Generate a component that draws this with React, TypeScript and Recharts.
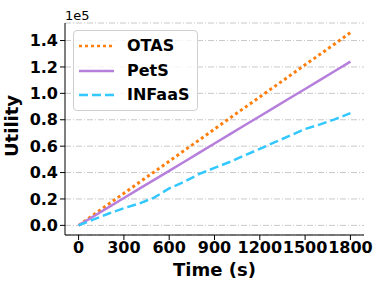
import React from "react";
import { LineChart, Line, XAxis, YAxis, CartesianGrid } from "recharts";

const times = [0, 100, 200, 300, 400, 500, 600, 700, 800, 900, 1000, 1100, 1200, 1300, 1400, 1500, 1600, 1700, 1800];
const otas = [0, 8100, 16200, 24300, 32400, 40500, 48600, 56700, 64800, 73000, 81100, 89200, 97300, 105400, 113500, 121600, 129700, 137800, 146000];
const pets = [0, 6900, 13800, 20700, 27600, 34500, 41300, 48200, 55100, 62000, 68900, 75800, 82700, 89600, 96500, 103300, 110200, 117100, 124000];
const infaas = [0, 4500, 9000, 13000, 16500, 21000, 28000, 33000, 39000, 43500, 48000, 53000, 58000, 63000, 68000, 73000, 76500, 80500, 85000];
const xTicks = [0, 300, 600, 900, 1200, 1500, 1800];
const yTicks = [0, 20000, 40000, 60000, 80000, 100000, 120000, 140000];

const data = times.map((t, i) => ({ t, OTAS: otas[i], PetS: pets[i], INFaaS: infaas[i] }));

const FONT = "'DejaVu Sans', sans-serif";
const C_OTAS = "#ff7f0e";
const C_PETS = "#b77fdc";
const C_INF = "#33c8ff";

const legendItems = [
  { name: "OTAS", color: C_OTAS, dash: "3 3" },
  { name: "PetS", color: C_PETS, dash: undefined },
  { name: "INFaaS", color: C_INF, dash: "9 4" },
];

const LegendBox = () => (
  <div
    style={{
      position: "absolute",
      left: 73,
      top: 30,
      border: "1px solid #d0d0d0",
      borderRadius: 4,
      background: "rgba(255,255,255,0.8)",
      padding: "3px 8px 2px 5px",
      fontFamily: FONT,
      fontWeight: "bold",
      fontSize: 16,
      lineHeight: "24.5px",
    }}
  >
    {legendItems.map((it) => (
      <div key={it.name} style={{ display: "flex", alignItems: "center" }}>
        <svg width={35} height={10} style={{ marginRight: 13 }}>
          <line x1={0} y1={5} x2={35} y2={5} stroke={it.color} strokeWidth={2.5} strokeDasharray={it.dash} />
        </svg>
        <span>{it.name}</span>
      </div>
    ))}
  </div>
);

export default function App() {
  return (
    <div style={{ position: "absolute", left: 0, top: 0, width: 382, height: 287, background: "#fff" }}>
      <LineChart width={382} height={287} data={data} margin={{ top: 23, right: 18, bottom: 22, left: 15 }}>
        <CartesianGrid vertical={false} stroke="#c8c8c8" strokeDasharray="6 2 1 2" />
        <XAxis
          dataKey="t"
          type="number"
          domain={[-90, 1890]}
          ticks={xTicks}
          interval={0}
          height={30}
          tickSize={5}
          stroke="#000"
          tick={{ fill: "#000", fontFamily: FONT, fontWeight: "bold", fontSize: 16 }}
          label={{ value: "Time (s)", position: "insideBottom", offset: -11, fill: "#000", fontFamily: FONT, fontWeight: "bold", fontSize: 18 }}
        />
        <XAxis xAxisId="top" orientation="top" dataKey="t" type="number" domain={[-90, 1890]} tick={false} tickLine={false} height={0} stroke="#000" />
        <YAxis
          type="number"
          domain={[-7300, 153300]}
          ticks={yTicks}
          interval={0}
          width={50}
          tickSize={5}
          stroke="#000"
          tickFormatter={(v: number) => (v / 100000).toFixed(1)}
          tick={{ fill: "#000", fontFamily: FONT, fontWeight: "bold", fontSize: 16 }}
          label={{ value: "Utility", angle: -90, position: "insideLeft", offset: -3, dy: 28, fill: "#000", fontFamily: FONT, fontWeight: "bold", fontSize: 18 }}
        />
        <YAxis yAxisId="right" orientation="right" type="number" domain={[-7300, 153300]} tick={false} tickLine={false} width={0} stroke="#000" />
        <Line dataKey="OTAS" stroke={C_OTAS} strokeWidth={3} strokeDasharray="3 3" dot={false} isAnimationActive={false} />
        <Line dataKey="PetS" stroke={C_PETS} strokeWidth={2.5} dot={false} isAnimationActive={false} />
        <Line dataKey="INFaaS" stroke={C_INF} strokeWidth={2.5} strokeDasharray="9 4" dot={false} isAnimationActive={false} />
        <text x={65} y={19.5} fontFamily={FONT} fontSize={13} fill="#000">1e5</text>
      </LineChart>
      <LegendBox />
    </div>
  );
}
